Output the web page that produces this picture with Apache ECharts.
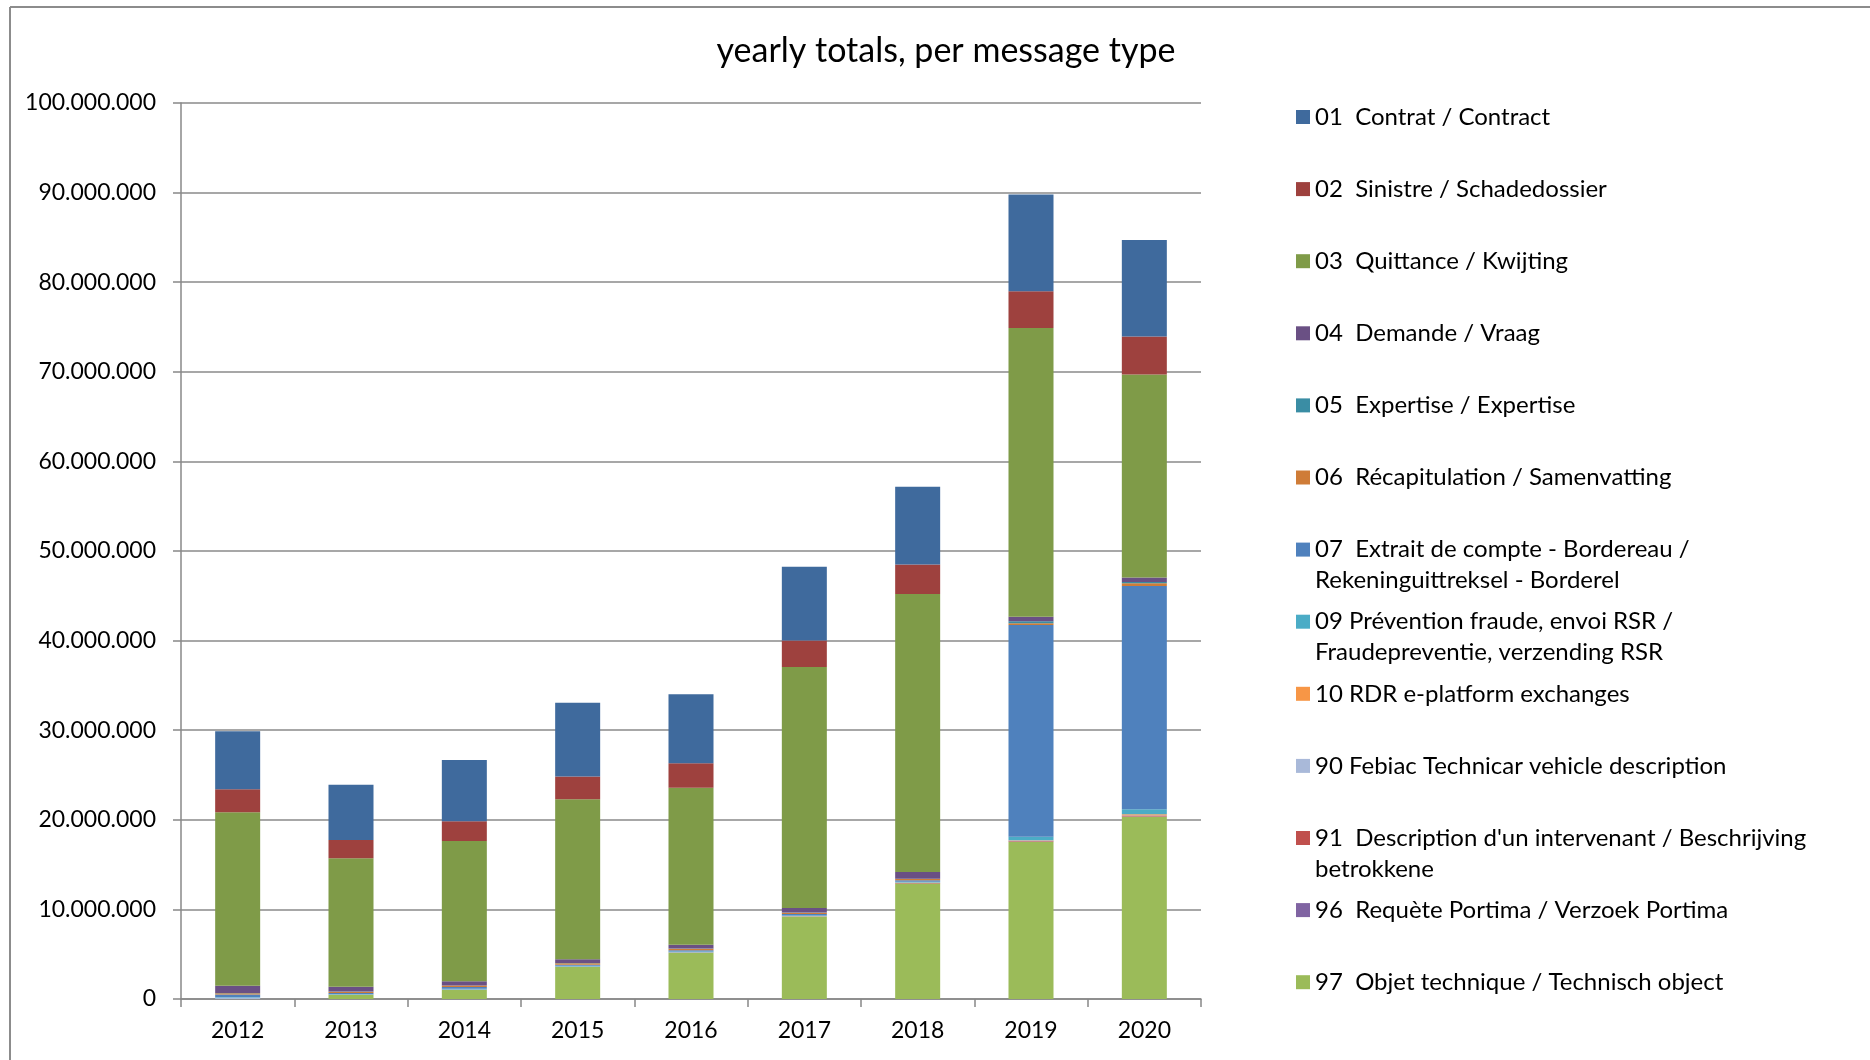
<!DOCTYPE html>
<html>
<head>
<meta charset="utf-8">
<script src="https://cdn.jsdelivr.net/npm/echarts@6/dist/echarts.min.js"></script>
<style>
html,body{margin:0;padding:0;background:#fff;}
#chart{width:1870px;height:1060px;}
</style>
</head>
<body>
<div id="chart"></div>
<script>
var years = ['2012','2013','2014','2015','2016','2017','2018','2019','2020'];
var yTicks = [0,10000000,20000000,30000000,40000000,50000000,60000000,70000000,80000000,90000000,100000000];

var s01 = [6480000, 6170000, 6840000, 8250000, 7700000, 8250000, 8680000, 10800000, 10750000];
var s02 = [2560000, 2050000, 2200000, 2530000, 2720000, 2940000, 3300000, 4100000, 4250000];
var s03 = [19360000, 14340000, 15660000, 17850000, 17520000, 26900000, 31030000, 32240000, 22650000];
var s04 = [800000, 520000, 450000, 410000, 420000, 500000, 750000, 500000, 500000];
var s05 = [30000, 20000, 20000, 30000, 30000, 30000, 30000, 220000, 150000];
var s06 = [150000, 150000, 150000, 170000, 170000, 150000, 150000, 200000, 300000];
var s07 = [300000, 120000, 200000, 120000, 150000, 150000, 150000, 23640000, 24930000];
var s09 = [50000, 50000, 80000, 70000, 70000, 70000, 100000, 370000, 550000];
var s10 = [0, 0, 0, 0, 0, 0, 20000, 50000, 120000];
var s90 = [150000, 30000, 50000, 40000, 40000, 30000, 30000, 30000, 30000];
var s91 = [0, 20000, 20000, 30000, 30000, 30000, 40000, 80000, 100000];
var s96 = [0, 0, 0, 0, 0, 0, 0, 20000, 20000];
var s97 = [0, 450000, 1000000, 3570000, 5150000, 9200000, 12900000, 17550000, 20350000];

var names = [
  '01  Contrat / Contract',
  '02  Sinistre / Schadedossier',
  '03  Quittance / Kwijting',
  '04  Demande / Vraag',
  '05  Expertise / Expertise',
  '06  Récapitulation / Samenvatting',
  '07  Extrait de compte - Bordereau / Rekeninguittreksel - Borderel',
  '09 Prévention fraude, envoi RSR / Fraudepreventie, verzending RSR',
  '10 RDR e-platform exchanges',
  '90 Febiac Technicar vehicle description',
  "91  Description d'un intervenant / Beschrijving betrokkene",
  '96  Requète Portima / Verzoek Portima',
  '97  Objet technique / Technisch object'
];
// legend wrapping (line 1, line 2)
var wrapped = {};
wrapped[names[6]] = ['07  Extrait de compte - Bordereau /', 'Rekeninguittreksel - Borderel'];
wrapped[names[7]] = ['09 Prévention fraude, envoi RSR /', 'Fraudepreventie, verzending RSR'];
wrapped[names[10]] = ["91  Description d'un intervenant / Beschrijving", 'betrokkene'];

var colors = ['#3F6A9D','#9E413E','#7F9B48','#6A5084','#3A8DA4','#CF7C37','#4F81BD','#4BACC6','#F79646','#A9B9D9','#C0504D','#8064A2','#9BBB59'];
var values = [s01,s02,s03,s04,s05,s06,s07,s09,s10,s90,s91,s96,s97];

var FONT = 'Lato';
var LH = 31;

function fmt(v){ return String(v).replace(/\B(?=(\d{3})+(?!\d))/g, '.'); }

// series: bottom of stack first (97 ... 01)
var series = [];
for (var i = names.length - 1; i >= 0; i--) {
  series.push({
    name: names[i],
    type: 'bar',
    stack: 'total',
    barWidth: 45,
    data: values[i],
    itemStyle: { color: colors[i] },
    emphasis: { disabled: true }
  });
}

var legends = names.map(function(n, i){
  var iconCenter = 117 + i * 72.1;
  var multi = !!wrapped[n];
  var h = multi ? LH * 3 : LH;
  return {
    data: [n],
    orient: 'vertical',
    left: 1296,
    top: iconCenter - h / 2,
    padding: 0,
    itemWidth: 14,
    itemHeight: 14,
    icon: 'rect',
    selectedMode: false,
    textStyle: { fontFamily: FONT, fontSize: 24, color: '#000', lineHeight: LH },
    formatter: function(name){
      var w = wrapped[name];
      return w ? ('\n' + w[0] + '\n' + w[1]) : name;
    }
  };
});

var chart = echarts.init(document.getElementById('chart'));
chart.setOption({
  backgroundColor: '#fff',
  animation: false,
  color: colors,
  title: {
    text: 'yearly totals, per message type',
    left: 941,
    textAlign: 'center',
    top: 29,
    textStyle: { fontFamily: FONT, fontSize: 34, fontWeight: 'normal', color: '#000' }
  },
  legend: legends,
  grid: { left: 181, right: 669, top: 103, bottom: 61, outerBoundsMode: 'none', containLabel: false },
  xAxis: {
    type: 'category',
    data: years,
    axisLine: { show: true, lineStyle: { color: '#888', width: 1.5 } },
    axisTick: { show: true, length: 8, lineStyle: { color: '#888', width: 1.5 } },
    axisLabel: { fontFamily: FONT, fontSize: 23, color: '#000', margin: 20 },
    splitLine: { show: false }
  },
  yAxis: {
    type: 'value',
    min: 0,
    max: 100000000,
    interval: 10000000,
    axisLine: { show: true, lineStyle: { color: '#888', width: 1.5 } },
    axisTick: { show: true, length: 8, lineStyle: { color: '#888', width: 1.5 } },
    axisLabel: { fontFamily: FONT, fontSize: 23, color: '#000', margin: 25, formatter: function(v){ return fmt(v); } },
    splitLine: { show: true, lineStyle: { color: '#8a8a8a', width: 1.5 } }
  },
  graphic: [
    { type: 'line', shape: { x1: 10, y1: 7, x2: 1870, y2: 7 }, style: { stroke: '#8c8c8c', lineWidth: 2 } },
    { type: 'line', shape: { x1: 10, y1: 7, x2: 10, y2: 1060 }, style: { stroke: '#8c8c8c', lineWidth: 2 } }
  ],
  series: series
});
</script>
</body>
</html>
